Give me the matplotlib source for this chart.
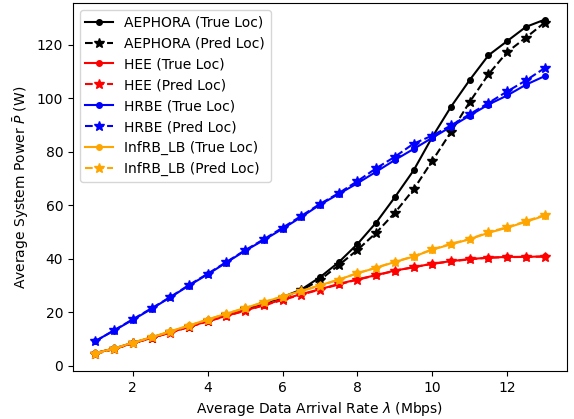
import matplotlib
matplotlib.use("Agg")
import matplotlib.pyplot as plt

# Average data arrival rate (Mbps)
rates = [1.0, 1.5, 2.0, 2.5, 3.0, 3.5, 4.0, 4.5, 5.0, 5.5, 6.0, 6.5, 7.0,
         7.5, 8.0, 8.5, 9.0, 9.5, 10.0, 10.5, 11.0, 11.5, 12.0, 12.5, 13.0]

aephora_true = [4.8, 6.5, 8.6, 10.6, 12.7, 14.8, 17.0, 19.1, 21.2, 23.3, 25.7, 28.5, 33.1,
                38.7, 45.5, 53.5, 63.0, 73.0, 85.5, 96.8, 106.8, 116.0, 121.3, 126.6, 129.3]
aephora_pred = [4.5, 6.3, 8.5, 10.5, 12.6, 14.7, 16.9, 19.0, 21.1, 23.2, 25.5, 28.2, 32.1,
                37.6, 43.3, 49.7, 57.2, 65.9, 76.6, 87.4, 98.6, 108.9, 117.2, 122.6, 128.2]

hee_true = [4.8, 6.4, 8.5, 10.4, 12.5, 14.6, 16.7, 18.7, 20.7, 22.7, 24.8, 26.8, 28.6,
            30.6, 32.3, 33.9, 35.6, 36.8, 38.2, 39.1, 39.9, 40.4, 40.7, 40.7, 40.9]
hee_pred = [4.5, 6.3, 8.4, 10.4, 12.4, 14.5, 16.6, 18.6, 20.6, 22.6, 24.6, 26.6, 28.5,
            30.4, 32.2, 33.8, 35.5, 36.9, 38.1, 39.0, 39.8, 40.4, 40.6, 40.7, 40.8]

hrbe_true = [9.3, 13.2, 17.2, 21.3, 25.6, 30.0, 34.2, 38.6, 43.0, 47.0, 51.2, 55.6, 60.2,
             64.2, 68.2, 72.5, 76.9, 81.0, 85.2, 89.3, 93.5, 97.6, 101.0, 105.0, 108.2]
hrbe_pred = [9.2, 13.3, 17.4, 21.5, 25.7, 30.2, 34.4, 38.8, 43.2, 47.3, 51.6, 56.0, 60.5,
             64.5, 69.0, 73.8, 78.1, 83.0, 86.0, 89.8, 94.0, 98.2, 102.5, 106.6, 111.2]

infrb_true = [4.8, 6.5, 8.7, 10.7, 12.9, 15.1, 17.3, 19.5, 21.6, 23.8, 25.9, 28.0, 30.1,
              32.2, 34.6, 36.6, 38.8, 40.8, 43.4, 45.4, 47.3, 49.7, 51.6, 53.8, 56.1]
infrb_pred = [4.4, 6.4, 8.6, 10.6, 12.8, 15.0, 17.3, 19.5, 21.6, 23.8, 25.9, 27.9, 30.0,
              32.2, 34.6, 36.7, 38.9, 40.9, 43.5, 45.6, 47.4, 49.9, 51.8, 54.0, 56.4]

series = [
    ("AEPHORA", "black", aephora_true, aephora_pred),
    ("HEE", "red", hee_true, hee_pred),
    ("HRBE", "blue", hrbe_true, hrbe_pred),
    ("InfRB_LB", "orange", infrb_true, infrb_pred),
]


def main():
    fig = plt.figure(figsize=(5.74, 4.19), dpi=100)
    ax = fig.add_subplot()
    fig.subplots_adjust(left=0.127, right=0.988, bottom=0.115, top=0.993)

    for name, color, true_vals, pred_vals in series:
        ax.plot(rates, true_vals, color=color, linestyle='-', marker='o', markersize=4,
                linewidth=1.5, label=name + " (True Loc)")
        ax.plot(rates, pred_vals, color=color, linestyle='--', marker='*', markersize=7,
                linewidth=1.5, label=name + " (Pred Loc)")

    ax.set_xlabel(r"Average Data Arrival Rate $\lambda$ (Mbps)")
    ax.set_ylabel(r"Average System Power $\bar{P}$ (W)")
    ax.legend(loc='upper left')

    fig.savefig("out.png", dpi=100)


if __name__ == "__main__":
    main()
